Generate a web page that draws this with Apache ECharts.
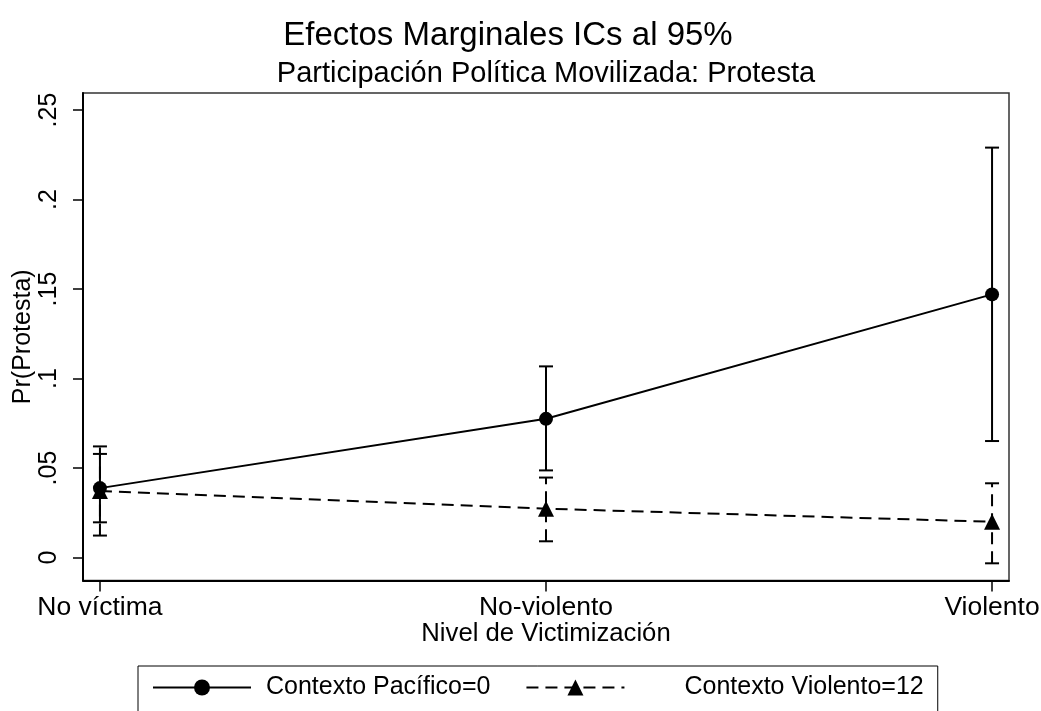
<!DOCTYPE html>
<html>
<head>
<meta charset="utf-8">
<script src="https://cdn.jsdelivr.net/npm/echarts@6/dist/echarts.min.js"></script>
<style>
  html, body { margin: 0; padding: 0; background: #fff; }
  #chart { width: 1041px; height: 711px; }
</style>
</head>
<body>
<div id="chart"></div>
<script>
// Victimization levels on the x axis
const categories = ['No víctima', 'No-violento', 'Violento'];

// Predicted probability of protest with 95% confidence bounds
const pacificoPoint = [0.0388, 0.0775, 0.1470];
const pacificoLow   = [0.0197, 0.0487, 0.0651];
const pacificoHigh  = [0.0579, 0.1068, 0.2290];

const violentoPoint = [0.0372, 0.0273, 0.0200];
const violentoLow   = [0.0123, 0.0091, -0.0032];
const violentoHigh  = [0.0621, 0.0447, 0.0415];

// Y axis ticks and their labels
const yTickValues = [0, 0.05, 0.1, 0.15, 0.2, 0.25];
const yTickLabels = ['0', '.05', '.1', '.15', '.2', '.25'];

const seriesNames = ['Contexto Pacífico=0', 'Contexto Violento=12'];

const FONT = '"Liberation Sans", Arial, Helvetica, sans-serif';
const catIndex = categories.map((_, i) => i);

function points(vals) {
  return vals.map((v, i) => [i, v]);
}
function bars(lo, hi) {
  return lo.map((v, i) => [i, v, hi[i]]);
}

// Vertical confidence interval with horizontal caps
function errorBarRenderer(dashed) {
  return function (params, api) {
    const x = api.value(0);
    const pLo = api.coord([x, api.value(1)]);
    const pHi = api.coord([x, api.value(2)]);
    const half = 7;
    const capStyle = { stroke: '#000', lineWidth: 2 };
    return {
      type: 'group',
      children: [
        {
          type: 'line',
          shape: { x1: pLo[0], y1: pLo[1], x2: pHi[0], y2: pHi[1] },
          style: { stroke: '#000', lineWidth: 2, lineDash: dashed ? [12, 7] : null }
        },
        { type: 'line', shape: { x1: pLo[0] - half, y1: pLo[1], x2: pLo[0] + half, y2: pLo[1] }, style: capStyle },
        { type: 'line', shape: { x1: pHi[0] - half, y1: pHi[1], x2: pHi[0] + half, y2: pHi[1] }, style: capStyle }
      ]
    };
  };
}

const chart = echarts.init(document.getElementById('chart'), null, { renderer: 'canvas' });

chart.setOption({
  animation: false,
  backgroundColor: '#fff',
  textStyle: { fontFamily: FONT, color: '#000' },
  graphic: [
    {
      type: 'text', x: 508, y: 36,
      style: { text: 'Efectos Marginales ICs al 95%', fontFamily: FONT, fontSize: 33, fill: '#000', textAlign: 'center', textVerticalAlign: 'middle' }
    },
    {
      type: 'text', x: 546, y: 74,
      style: { text: 'Participación Política Movilizada: Protesta', fontFamily: FONT, fontSize: 29, fill: '#000', textAlign: 'center', textVerticalAlign: 'middle' }
    }
  ],
  grid: {
    left: 83, right: 32, top: 93, bottom: 130.5,
    outerBoundsMode: 'none',
    containLabel: false,
    show: true, borderColor: '#333', borderWidth: 1.5, backgroundColor: '#fff'
  },
  legend: {
    data: [
      { name: seriesNames[0], textStyle: { padding: [0, 0, 0, 10] } },
      { name: seriesNames[1], textStyle: { padding: [0, 0, 0, 55] } }
    ],
    left: 138, top: 666,
    orient: 'horizontal',
    itemWidth: 98, itemHeight: 20, itemGap: 35,
    padding: [9, 14, 40, 14],
    borderColor: '#000', borderWidth: 1,
    selectedMode: false,
    textStyle: { fontFamily: FONT, fontSize: 25, color: '#000' }
  },
  xAxis: {
    type: 'value',
    min: -0.038, max: 2.038,
    name: 'Nivel de Victimización',
    nameLocation: 'middle', nameGap: 40,
    nameMoveOverlap: false,
    nameTextStyle: { fontFamily: FONT, fontSize: 25.7, color: '#000' },
    axisLine: { show: true, onZero: false, lineStyle: { color: '#000', width: 2 } },
    axisTick: { show: true, length: 11, lineStyle: { color: '#000', width: 1.5 }, customValues: catIndex },
    axisLabel: {
      fontFamily: FONT, fontSize: 26.5, color: '#000', margin: 14,
      hideOverlap: false,
      customValues: catIndex,
      formatter: v => categories[Math.round(v)]
    },
    splitLine: { show: false }
  },
  yAxis: {
    type: 'value',
    min: -0.0128, max: 0.2595,
    name: 'Pr(Protesta)',
    nameLocation: 'middle', nameGap: 47,
    nameMoveOverlap: false,
    nameTextStyle: { fontFamily: FONT, fontSize: 25, color: '#000' },
    axisLine: { show: true, onZero: false, lineStyle: { color: '#000', width: 2 } },
    axisTick: { show: true, length: 10, lineStyle: { color: '#000', width: 1.5 }, customValues: yTickValues },
    axisLabel: {
      fontFamily: FONT, fontSize: 25, color: '#000', margin: 21, rotate: 90,
      customValues: yTickValues,
      formatter: v => {
        const i = yTickValues.findIndex(t => Math.abs(t - v) < 1e-9);
        return i >= 0 ? yTickLabels[i] : '';
      }
    },
    splitLine: { show: false }
  },
  series: [
    {
      name: 'IC ' + seriesNames[0],
      type: 'custom',
      renderItem: errorBarRenderer(false),
      data: bars(pacificoLow, pacificoHigh),
      encode: { x: 0, y: [1, 2] },
      z: 2
    },
    {
      name: 'IC ' + seriesNames[1],
      type: 'custom',
      renderItem: errorBarRenderer(true),
      data: bars(violentoLow, violentoHigh),
      encode: { x: 0, y: [1, 2] },
      z: 2
    },
    {
      name: seriesNames[0],
      type: 'line',
      data: points(pacificoPoint),
      symbol: 'circle', symbolSize: 14,
      showAllSymbol: true,
      lineStyle: { color: '#000', width: 2, type: 'solid' },
      itemStyle: { color: '#000', borderWidth: 0 },
      z: 5
    },
    {
      name: seriesNames[1],
      type: 'line',
      data: points(violentoPoint),
      symbol: 'triangle', symbolSize: 16,
      showAllSymbol: true,
      lineStyle: { color: '#000', width: 2, type: [12, 7] },
      itemStyle: { color: '#000', borderWidth: 0 },
      z: 5
    }
  ]
});
</script>
</body>
</html>
